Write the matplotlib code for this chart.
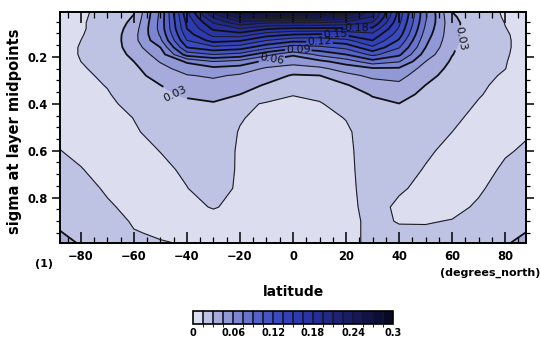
import numpy as np
import matplotlib
matplotlib.use("Agg")
import matplotlib.pyplot as plt
from matplotlib.colors import ListedColormap, BoundaryNorm
from matplotlib.ticker import MultipleLocator, FuncFormatter

plt.rcParams['font.family'] = ['DejaVu Sans']

# Grid: latitude (degrees_north) and sigma at layer midpoints
lat = [-87.86, -80, -70, -60, -50, -40, -30, -20, -10, 0,
       10, 20, 30, 40, 50, 60, 70, 80, 87.86]
sigma = [0.009, 0.03, 0.055, 0.08, 0.105, 0.13, 0.16, 0.19, 0.22, 0.25, 0.28,
         0.32, 0.36, 0.40, 0.46, 0.52, 0.60, 0.68, 0.76, 0.84, 0.90, 0.95, 0.993]

# Zonal-mean field, in thousandths, one row per sigma level (south -> north)
field_milli = [
    [11, 13, 19, 29, 78, 162, 228, 268, 278, 281, 278, 268, 215, 145, 77, 30, 21, 13.5, 11],
    [11.5, 13.5, 19, 31, 79, 158, 213, 248, 250, 252, 246, 236, 209, 142, 77, 32, 21, 14, 11.5],
    [12, 14, 19, 34, 80, 153, 196, 219, 211, 210, 209, 204, 194, 138, 75, 34, 21, 14.8, 12],
    [12, 14, 19, 37, 80, 150, 183, 195, 182, 177, 177, 177, 177, 133, 72, 34, 21, 15.2, 12.5],
    [12.2, 14.5, 19, 39.5, 77, 143, 170, 173, 157, 150, 148, 153, 161, 127, 68, 34.5, 21, 15.6, 13],
    [12.2, 15, 19, 40, 72, 135, 156, 152, 135, 125, 125, 131, 150, 118, 64, 34, 21, 15.8, 13],
    [12, 15.5, 19.5, 38, 60, 120, 131, 127, 110, 97, 101, 109, 132, 106, 60, 32, 20, 15.8, 13],
    [12, 15.5, 19.5, 34, 52, 97, 105, 100, 80, 62, 79, 90, 109, 93, 53, 30.5, 19.5, 15.6, 12.8],
    [11.8, 15, 19, 30, 46, 62, 75, 70, 56, 50.4, 56, 67, 84, 76, 45, 28, 19, 15.3, 12.5],
    [11.5, 14, 18, 27, 40, 52, 56, 53, 43, 38.8, 42, 51, 58, 58, 39, 26, 18, 15.1, 12],
    [11.2, 13.4, 16.5, 25, 36, 44, 47, 43, 37, 28.5, 29.7, 41, 48, 50, 35, 24, 17, 14.2, 11.5],
    [11, 12, 15.5, 22, 30, 37, 40, 36.6, 28.7, 22, 24, 29, 39, 42, 30, 22, 16.2, 13.2, 11],
    [11, 11, 14.2, 20, 27, 32, 34, 30, 20, 15.5, 18, 24, 31, 36, 26, 20, 15.5, 12.5, 11],
    [11.2, 10.5, 13, 18, 24, 27, 29, 17.5, 14, 12, 14, 20.5, 27, 29.8, 23, 18, 14.5, 12, 11.5],
    [12, 10, 11, 15.2, 20, 24, 25, 16, 11, 10, 11, 15.5, 24, 25, 20, 16.5, 13, 11.8, 12.5],
    [13, 11, 10, 14, 18, 22, 23, 14.2, 10, 9.5, 10, 13, 22, 22, 18, 15, 11.5, 12, 14],
    [15.2, 12.5, 10, 12, 15.2, 19, 22, 13.4, 10, 9.5, 10, 12.5, 21, 20, 16.2, 13, 11, 14, 16.2],
    [18, 15.5, 11, 11, 13, 16.5, 21, 13.5, 10, 9.5, 10, 12.5, 20, 18, 14.5, 11.5, 11.5, 16.5, 19],
    [22, 19, 13.5, 11, 12, 14.8, 19, 13.5, 10, 9.5, 10, 12.5, 19, 16, 13, 11, 13.5, 19.5, 22],
    [26, 22, 16.5, 12, 12.5, 13, 15.5, 13, 10, 9.5, 10, 12.5, 18, 13.5, 12, 12, 16.5, 22, 25],
    [28, 25, 19, 14, 13, 13, 12, 12, 10, 9.5, 10, 12.5, 17, 14.5, 14.2, 15.5, 19, 24, 27],
    [30.5, 27, 21, 15.5, 14, 14, 11, 11, 10, 9.5, 10, 12.5, 17, 16.5, 17, 18, 20.5, 26, 30.2],
    [34, 29, 23, 17, 15.5, 14.5, 11, 11, 10, 9.5, 10, 12.5, 17, 18, 19, 20, 22, 29, 33],
]

fill_levels = [0.0, 0.015, 0.03, 0.045, 0.06, 0.075, 0.09, 0.105, 0.12, 0.135,
               0.15, 0.165, 0.18, 0.195, 0.21, 0.225, 0.24, 0.255, 0.27,
               0.285, 0.3]
labeled_levels = [0.03, 0.06, 0.09, 0.12, 0.15, 0.18]
plain_levels = [0.015, 0.045, 0.075, 0.105, 0.135, 0.165, 0.195, 0.21,
                0.225, 0.24, 0.255, 0.27, 0.285]
label_spots = [(-44.5, 0.355), (62.0, 0.12), (-8.0, 0.21), (2.0, 0.167),
               (10.0, 0.135), (16.0, 0.10), (24.0, 0.072)]
cbar_ticks = [0, 0.06, 0.12, 0.18, 0.24, 0.3]
cbar_labels = ["0", "0.06", "0.12", "0.18", "0.24", "0.3"]

# One colour per 0.015 band: pale lavender -> royal blue -> navy
band_colors = ["#dcdef0", "#bfc3e3", "#a6abdb", "#9098d5", "#7b85d0",
               "#6773cc", "#5563c8", "#4555c4", "#3a4ac0", "#3241ba",
               "#2d3ab2", "#2934a6", "#252e96", "#212886", "#1d2276",
               "#191d66", "#151856", "#111347", "#0c0e37", "#080927"]
cmap = ListedColormap(band_colors)
norm = BoundaryNorm(fill_levels, cmap.N)

data = np.array(field_milli) / 1000.0

fig = plt.figure(figsize=(5.41, 3.42), dpi=100)
ax = fig.add_axes([60 / 541, (342 - 243) / 342, 466 / 541, 231 / 342])

LAT, SIG = np.meshgrid(lat, sigma)
cf = ax.contourf(LAT, SIG, data, levels=fill_levels, cmap=cmap, norm=norm)
ax.contour(LAT, SIG, data, levels=plain_levels, colors="#1c1c24",
           linewidths=0.8)
cs = ax.contour(LAT, SIG, data, levels=labeled_levels, colors="#101014",
                linewidths=1.3)
ax.clabel(cs, manual=label_spots, fmt="%.2f", fontsize=8, inline=True,
          inline_spacing=1)


def minus_fmt(fmt):
    return FuncFormatter(lambda v, pos: (fmt % v).replace("-", "\u2212"))


ax.set_xlim(-87.86, 87.86)
ax.set_ylim(0.993, 0.009)
ax.xaxis.set_major_locator(MultipleLocator(20))
ax.xaxis.set_minor_locator(MultipleLocator(5))
ax.yaxis.set_major_locator(MultipleLocator(0.2))
ax.yaxis.set_minor_locator(MultipleLocator(0.05))
ax.xaxis.set_major_formatter(minus_fmt("%d"))
ax.yaxis.set_major_formatter(minus_fmt("%.1f"))
ax.tick_params(axis="x", which="major", direction="in", length=8, width=1.1,
               top=True, labelsize=8.3, pad=5)
ax.tick_params(axis="x", which="minor", direction="in", length=4, width=0.9,
               top=True)
ax.tick_params(axis="y", which="major", direction="out", length=6, width=1.1,
               right=True, labelsize=8.3, pad=3)
ax.tick_params(axis="y", which="minor", direction="out", length=3, width=0.9,
               right=True)
for lab in ax.get_xticklabels() + ax.get_yticklabels():
    lab.set_fontweight("bold")
for sp in ax.spines.values():
    sp.set_linewidth(1.4)

fig.text(15 / 541, 1 - 131 / 342, "sigma at layer midpoints", rotation=90,
         ha="center", va="center", fontsize=10.5, fontweight="bold")
fig.text(44 / 541, 1 - 264 / 342, "(1)", ha="center", va="center",
         fontsize=8, fontweight="bold")
fig.text(540 / 541, 1 - 273 / 342, "(degrees_north)", ha="right",
         va="center", fontsize=8, fontweight="bold")
fig.text(294 / 541, 1 - 292 / 342, "latitude", ha="center", va="center",
         fontsize=10, fontweight="bold")

cax = fig.add_axes([193 / 541, (342 - 324) / 342, 200 / 541, 13 / 342])
cb = fig.colorbar(cf, cax=cax, orientation="horizontal", drawedges=True,
                  ticks=cbar_ticks)
cb.dividers.set_color("#15152a")
cb.dividers.set_linewidth(1.2)
cb.outline.set_linewidth(1.2)
cb.ax.set_xticklabels(cbar_labels)
cb.ax.tick_params(length=0, labelsize=7, pad=3)
for lab in cb.ax.get_xticklabels():
    lab.set_fontweight("bold")

fig.savefig("out.png", dpi=100)
